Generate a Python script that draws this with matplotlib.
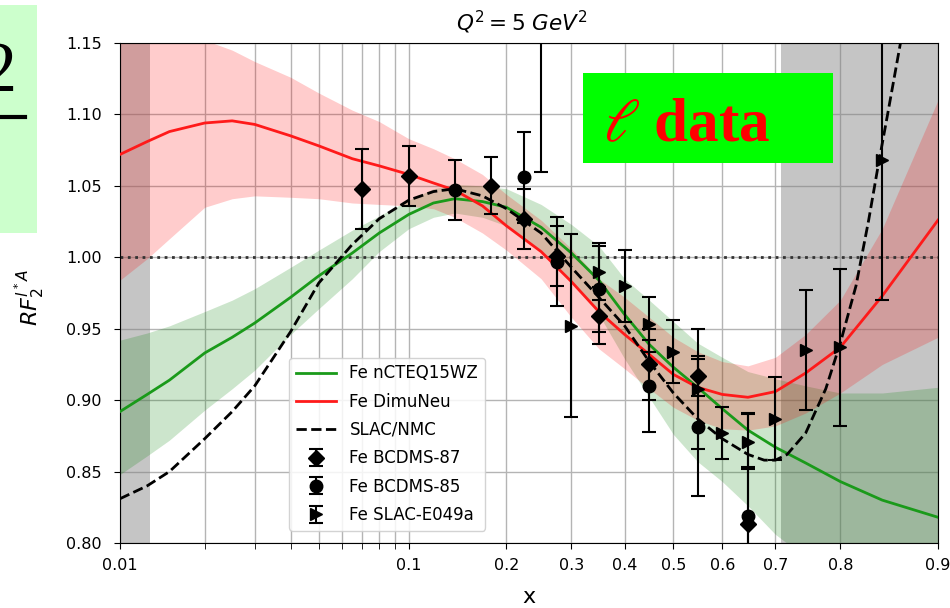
import numpy as np
import matplotlib
matplotlib.use("Agg")
import matplotlib.pyplot as plt
from matplotlib.ticker import FixedLocator, FixedFormatter, NullFormatter
from matplotlib.patches import Rectangle
from matplotlib.lines import Line2D

# ---------------- data ----------------
x_curve = [0.01, 0.0125, 0.015, 0.02, 0.025, 0.03, 0.04, 0.05, 0.065, 0.08, 0.1, 0.12, 0.14, 0.17, 0.2,
           0.25, 0.3, 0.35, 0.4, 0.45, 0.5, 0.55, 0.6, 0.65, 0.7, 0.75, 0.8, 0.85, 0.9]

dimu_center = [1.072, 1.081, 1.088, 1.094, 1.0955, 1.093, 1.085, 1.078, 1.069, 1.064, 1.058, 1.052, 1.047,
               1.036, 1.022, 1.004, 0.983, 0.962, 0.946, 0.932, 0.918, 0.909, 0.904, 0.902, 0.906, 0.919,
               0.937, 0.973, 1.026]
dimu_lower = [0.984, 0.999, 1.013, 1.035, 1.041, 1.043, 1.042, 1.041, 1.038, 1.037, 1.036, 1.034, 1.028,
              1.017, 1.005, 0.985, 0.958, 0.936, 0.922, 0.908, 0.895, 0.886, 0.880, 0.879, 0.882, 0.891,
              0.905, 0.925, 0.944]
dimu_upper = [1.165, 1.163, 1.160, 1.152, 1.145, 1.137, 1.126, 1.115, 1.103, 1.095, 1.083, 1.076, 1.069,
              1.058, 1.044, 1.026, 1.006, 0.985, 0.972, 0.958, 0.944, 0.934, 0.927, 0.924, 0.930, 0.946,
              0.970, 1.020, 1.110]

ncteq_center = [0.892, 0.904, 0.914, 0.933, 0.944, 0.954, 0.972, 0.987, 1.003, 1.017, 1.030, 1.038, 1.041,
                1.039, 1.035, 1.021, 1.003, 0.984, 0.960, 0.939, 0.923, 0.909, 0.894, 0.879, 0.867, 0.856,
                0.843, 0.830, 0.818]
ncteq_lower = [0.848, 0.861, 0.872, 0.893, 0.908, 0.921, 0.946, 0.964, 0.985, 1.004, 1.020, 1.028, 1.031,
               1.028, 1.022, 1.005, 0.983, 0.960, 0.929, 0.902, 0.876, 0.857, 0.843, 0.826, 0.806, 0.790,
               0.775, 0.760, 0.745]
ncteq_upper = [0.942, 0.947, 0.952, 0.962, 0.970, 0.978, 0.993, 1.005, 1.019, 1.029, 1.040, 1.048, 1.051,
               1.050, 1.048, 1.037, 1.023, 1.008, 0.985, 0.970, 0.955, 0.940, 0.930, 0.920, 0.915, 0.910,
               0.905, 0.905, 0.909]

x_slacnmc = [0.01, 0.0125, 0.015, 0.02, 0.025, 0.03, 0.04, 0.05, 0.065, 0.08, 0.1, 0.12, 0.14, 0.17, 0.2,
             0.25, 0.3, 0.35, 0.4, 0.45, 0.5, 0.55, 0.6, 0.65, 0.68, 0.7, 0.72, 0.75, 0.78, 0.8, 0.82,
             0.835, 0.845, 0.855, 0.868, 0.88]
y_slacnmc = [0.831, 0.840, 0.850, 0.873, 0.892, 0.910, 0.948, 0.982, 1.009, 1.027, 1.040, 1.046, 1.048,
             1.043, 1.034, 1.017, 0.993, 0.972, 0.952, 0.927, 0.905, 0.887, 0.873, 0.862, 0.858, 0.858,
             0.862, 0.877, 0.908, 0.940, 0.980, 1.026, 1.062, 1.098, 1.149, 1.210]

bcdms87_x = [0.07, 0.10, 0.18, 0.225, 0.275, 0.35, 0.45, 0.55, 0.65]
bcdms87_y = [1.048, 1.057, 1.050, 1.027, 1.001, 0.959, 0.925, 0.917, 0.813]
bcdms87_e = [0.028, 0.021, 0.020, 0.021, 0.021, 0.020, 0.025, 0.014, 0.040]

bcdms85_x = [0.14, 0.225, 0.275, 0.35, 0.45, 0.55, 0.65]
bcdms85_y = [1.047, 1.056, 0.997, 0.978, 0.910, 0.881, 0.819]
bcdms85_e = [0.021, 0.032, 0.031, 0.030, 0.032, 0.048, 0.072]

slac_x = [0.25, 0.30, 0.35, 0.40, 0.45, 0.50, 0.55, 0.60, 0.65, 0.70, 0.75, 0.80, 0.85]
slac_y = [1.190, 0.952, 0.990, 0.980, 0.953, 0.934, 0.908, 0.877, 0.871, 0.887, 0.935, 0.937, 1.068]
slac_e = [0.130, 0.064, 0.020, 0.025, 0.019, 0.022, 0.042, 0.018, 0.019, 0.029, 0.042, 0.055, 0.098]

major_ticks = [0.01, 0.1, 0.2, 0.3, 0.4, 0.5, 0.6, 0.7, 0.8, 0.9]
major_labels = ["0.01", "0.1", "0.2", "0.3", "0.4", "0.5", "0.6", "0.7", "0.8", "0.9"]
minor_ticks = [0.02, 0.03, 0.04, 0.05, 0.06, 0.07, 0.08, 0.09]
y_ticks = [0.80, 0.85, 0.90, 0.95, 1.00, 1.05, 1.10, 1.15]
left_cut = [0.01, 0.0128]
right_cut = [0.71, 0.9]

# ---------------- figure ----------------
plt.rcParams['font.family'] = ['DejaVu Sans']
fig = plt.figure(figsize=(9.5, 6.08), dpi=100)
fig.patch.set_facecolor("white")
W, H = 950.0, 608.0
ax = fig.add_axes([120 / W, 1 - 543 / H, 818 / W, 500 / H])
ax.set_xscale("logit")
ax.set_xlim(0.01, 0.9)
ax.set_ylim(0.80, 1.15)
ax.set_axisbelow(True)

ax.axvspan(*left_cut, color="gray", alpha=0.45, lw=0, zorder=0.8)
ax.axvspan(*right_cut, color="gray", alpha=0.45, lw=0, zorder=0.8)

ax.fill_between(x_curve, ncteq_lower, ncteq_upper, color="green", alpha=0.2, lw=0)
ax.fill_between(x_curve, dimu_lower, dimu_upper, color="red", alpha=0.2, lw=0)

ax.plot(x_curve, ncteq_center, color="#1a9a1a", lw=2, label="Fe nCTEQ15WZ", zorder=3)
ax.plot(x_curve, dimu_center, color="#ff1a1a", lw=2, label="Fe DimuNeu", zorder=3)
ax.plot(x_slacnmc, y_slacnmc, color="black", ls="--", lw=2, label="SLAC/NMC", zorder=3)

ax.axhline(1.0, color="#333333", ls=":", lw=2, zorder=2)

ekw = dict(color="black", ls="none", elinewidth=1.5, capsize=5, capthick=1.5, zorder=4)
ax.errorbar(bcdms87_x, bcdms87_y, yerr=bcdms87_e, marker="D", ms=8, label="Fe BCDMS-87", **ekw)
ax.errorbar(bcdms85_x, bcdms85_y, yerr=bcdms85_e, marker="o", ms=9, label="Fe BCDMS-85", **ekw)
ax.errorbar(slac_x, slac_y, yerr=slac_e, marker=">", ms=9, label="Fe SLAC-E049a", **ekw)

ax.xaxis.set_major_locator(FixedLocator(major_ticks))
ax.xaxis.set_major_formatter(FixedFormatter(major_labels))
ax.xaxis.set_minor_locator(FixedLocator(minor_ticks))
ax.xaxis.set_minor_formatter(NullFormatter())
ax.set_yticks(y_ticks)
ax.set_yticklabels([f"{v:.2f}" for v in y_ticks])
ax.grid(True, which="both", color="#b4b4b4", lw=1.0)
ax.tick_params(axis="both", which="both", labelsize=11.5, length=4, direction="out")
ax.tick_params(axis="y", pad=9)
ax.tick_params(axis="x", pad=7)

ax.set_title(r"$Q^2 = 5\ GeV^2$", fontsize=15.5, pad=9, x=0.491)
ax.set_xlabel("x", fontsize=16, labelpad=10)
ax.set_ylabel(r"$RF_2^{l^*A}$", fontsize=16)
ax.yaxis.set_label_coords(-0.09, 0.49)

leg = ax.legend(loc="lower left", bbox_to_anchor=(0.197, 0.008), fontsize=12,
                handlelength=2.4, labelspacing=0.62, framealpha=0.85)
leg.set_zorder(6)

# ---------------- slide decorations ----------------
fig.add_artist(Rectangle((0, 1 - 233 / H), 37 / W, 228 / H, transform=fig.transFigure,
                         facecolor="#ccffcc", edgecolor="none", zorder=10))
fig.text(17 / W, 1 - 91 / H, "2", ha="right", va="baseline", fontsize=52,
         family="Liberation Serif", color="black", zorder=11)
fig.add_artist(Line2D([0, 25 / W], [1 - 117 / H, 1 - 117 / H], transform=fig.transFigure,
                      color="black", lw=3, zorder=11))

fig.add_artist(Rectangle((583 / W, 1 - 163 / H), 250 / W, 90 / H, transform=fig.transFigure,
                         facecolor="#00ff00", edgecolor="none", zorder=10))
fig.text(603 / W, 1 - 141 / H, r"$\ell$ data", ha="left", va="baseline", fontsize=44,
         family="Liberation Serif", fontweight="bold", color="red", math_fontfamily="stix",
         zorder=11)

fig.savefig("out.png", dpi=100)
